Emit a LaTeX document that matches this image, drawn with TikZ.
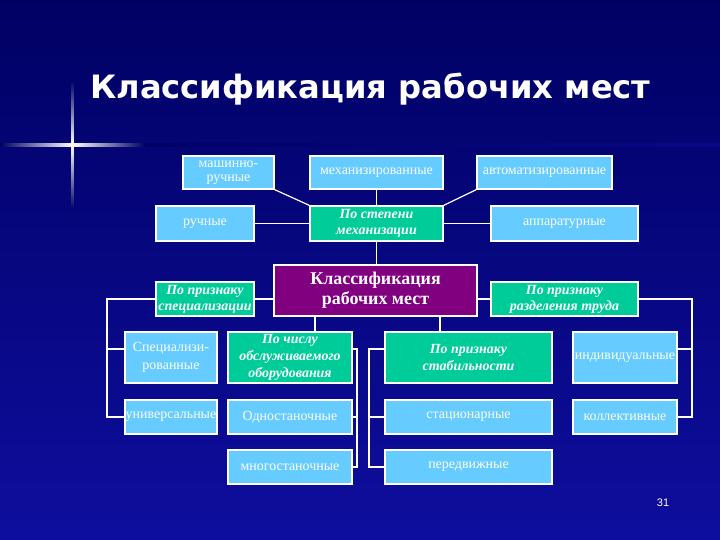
\documentclass[tikz,border=0pt]{standalone}
\usepackage{fontspec}
\setmainfont{Liberation Serif}
\newfontfamily\titlefont{DejaVu Sans}
\newfontfamily\numfont{Liberation Sans}
\definecolor{bgtop}{RGB}{0,0,100}
\definecolor{bgbot}{RGB}{14,14,158}
\definecolor{lblue}{RGB}{102,204,255}
\definecolor{grn}{RGB}{0,204,153}
\definecolor{purp}{RGB}{128,0,128}
\begin{document}
\begin{tikzpicture}[x=1bp,y=-1bp,
  box/.style={draw=white, line width=1.2bp, inner sep=0bp, align=center, text=white},
  lb/.style={box, fill=lblue, font=\fontsize{14}{15}\selectfont},
  gb/.style={box, fill=grn, font=\bfseries\itshape\fontsize{14}{16}\selectfont},
  pb/.style={box, fill=purp, font=\bfseries\fontsize{18}{20}\selectfont},
  wire/.style={draw=white, line width=1.2bp}]
\useasboundingbox (0,0) rectangle (720,540);
\shade[top color=bgtop, bottom color=bgbot] (0,0) rectangle (720,540);
% decorative sparkle
\shade[left color=bgtop, right color=bgbot!60!bgtop] (140,143.5) rectangle (720,147);
\shade[left color=bgtop, right color=bgtop, middle color=white] (0,144) rectangle (145,146.5);
\shade[top color=bgtop, bottom color=bgtop, middle color=white] (71,80) rectangle (73.5,210);
% title
\node[anchor=base west, text=white, inner sep=0, font=\titlefont\bfseries\fontsize{32.3}{36}\selectfont] (title) at (90,99) {Классификация рабочих мест};
% row 1
\node[lb, minimum width=91bp, minimum height=33bp, font=\fontsize{14}{14.5}\selectfont] (mr) at (228.5,172.5) {машинно-\\ручные};
\node[lb, minimum width=133bp, minimum height=33bp] (mex) at (376.5,172.5) {механизированные};
\node[lb, minimum width=135bp, minimum height=33bp] (avt) at (544.5,172.5) {автоматизированные};
% row 2
\node[lb, minimum width=98bp, minimum height=35bp] (ruch) at (205,223.5) {ручные};
\node[gb, minimum width=133bp, minimum height=35bp] (step) at (376.5,223.5) {По степени\\механизации};
\node[lb, minimum width=147bp, minimum height=35bp] (app) at (564.5,223.5) {аппаратурные};
% row 3
\node[pb, minimum width=203bp, minimum height=51bp] (main) at (375.5,290.5) {Классификация\\рабочих мест};
\node[gb, minimum width=98bp, minimum height=34bp] (spec) at (205,299) {По признаку\\специализации};
\node[gb, minimum width=147bp, minimum height=34bp] (razd) at (564.5,299) {По признаку\\разделения труда};
% row 4
\node[lb, minimum width=92bp, minimum height=51bp, font=\fontsize{14}{18}\selectfont] (sz) at (171,357.5) {Специализи-\\рованные};
\node[gb, minimum width=124bp, minimum height=51bp, font=\bfseries\itshape\fontsize{14}{17}\selectfont] (chis) at (290,357.5) {По числу\\обслуживаемого\\оборудования};
\node[gb, minimum width=167bp, minimum height=51bp, font=\bfseries\itshape\fontsize{14}{18}\selectfont] (stab) at (468.5,357.5) {По признаку\\стабильности};
\node[lb, minimum width=104bp, minimum height=51bp] (ind) at (625,357.5) {индивидуальные};
% row 5
\node[lb, minimum width=92bp, minimum height=34bp] (univ) at (171,417) {универсальные};
\node[lb, minimum width=124bp, minimum height=34bp] (odno) at (290,417) {Одностаночные};
\node[lb, minimum width=167bp, minimum height=34bp] (stac) at (468.5,417) {стационарные};
\node[lb, minimum width=104bp, minimum height=34bp] (koll) at (625,417) {коллективные};
% row 6
\node[lb, minimum width=124bp, minimum height=34bp] (mnogo) at (290,467) {многостаночные};
\node[lb, minimum width=167bp, minimum height=34bp] (pered) at (468.5,467) {передвижные};
% page number
\node[text=white, font=\numfont\fontsize{11}{12}\selectfont] (num) at (663,503) {31};
% connectors
\coordinate (lbus) at (107,299);
\coordinate (rbus) at (692,299);
\coordinate (cbr) at (357,349);
\coordinate (sbl) at (369,349);
\draw[wire] (mr.south east) -- (step.north west);
\draw[wire] (mex.south) -- (step.north);
\draw[wire] (avt.south west) -- (step.north east);
\draw[wire] (ruch.east) -- (step.west);
\draw[wire] (step.east) -- (app.west);
\draw[wire] (step.south) -- (step.south |- main.north);
\draw[wire] (spec.east) -- (spec.east -| main.west);
\draw[wire] (razd.west) -- (razd.west -| main.east);
\draw[wire] (spec.west) -- (lbus) |- (univ.west);
\draw[wire] (lbus |- cbr) -- (sz.west |- cbr);
\draw[wire] (razd.east) -- (rbus) |- (koll.east);
\draw[wire] (rbus |- cbr) -- (ind.east |- cbr);
\draw[wire] ([xshift=25bp]chis.north) -- ([xshift=25bp]chis.north |- main.south);
\draw[wire] ([xshift=-28.5bp]stab.north) -- ([xshift=-28.5bp]stab.north |- main.south);
\draw[wire] (chis.east |- cbr) -- (cbr) |- (mnogo.east);
\draw[wire] (odno.east) -- (odno.east -| cbr);
\draw[wire] (stab.west |- sbl) -- (sbl) |- (pered.west);
\draw[wire] (stac.west) -- (stac.west -| sbl);
\end{tikzpicture}
\end{document}
